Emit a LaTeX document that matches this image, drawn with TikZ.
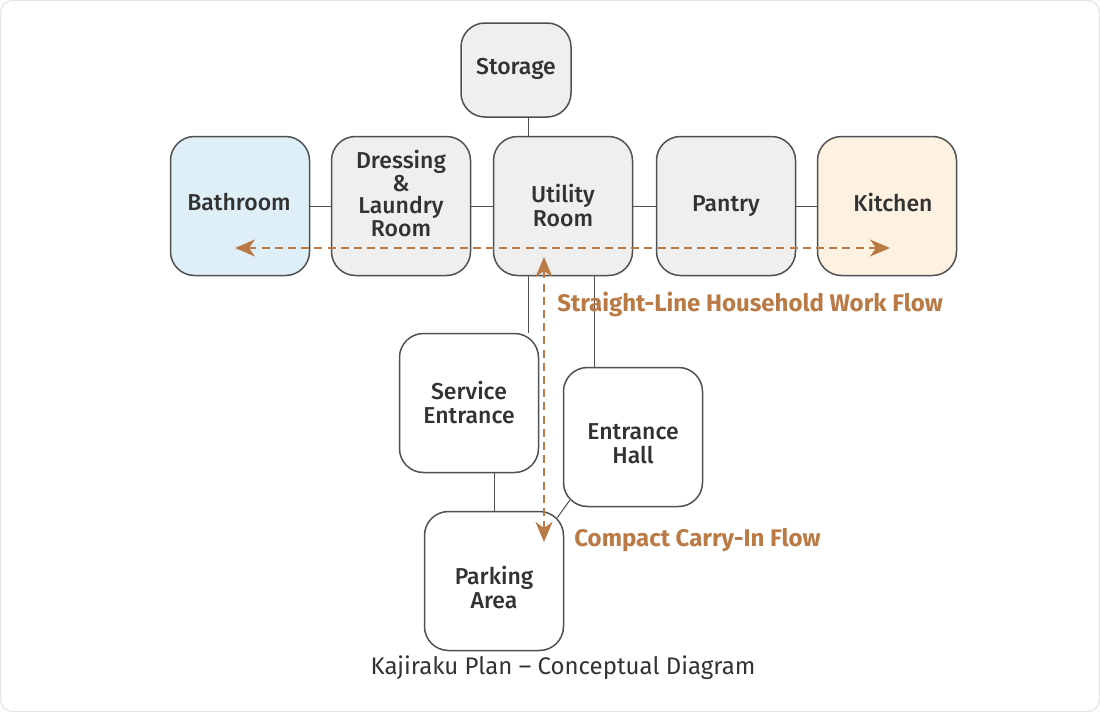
\documentclass[tikz,border=0pt]{standalone}
\usepackage{fontspec}
\setmainfont{Fira Sans}
\newfontfamily\medfont{Fira Sans Medium}
\usepackage{xcolor}
\usetikzlibrary{arrows.meta}
\definecolor{flowc}{RGB}{186,122,70}
\definecolor{edgec}{RGB}{80,80,80}
\definecolor{bathc}{RGB}{222,239,248}
\definecolor{kitc}{RGB}{253,241,226}
\definecolor{roomc}{RGB}{239,239,239}
\definecolor{textc}{RGB}{50,50,50}
\definecolor{framec}{RGB}{228,228,228}

\begin{document}
\begin{tikzpicture}[x=0.5pt,y=-0.5pt,
room/.style={draw=edgec,line width=0.75pt,rounded corners=12pt,minimum width=69.5pt,minimum height=69.5pt,
  inner sep=0pt,align=center,text=textc,font=\medfont\fontsize{11.5}{12}\selectfont},
roomtext/.style={text=textc,align=center,inner sep=0pt,font=\medfont\fontsize{11.5}{12}\selectfont},
link/.style={draw=edgec,line width=0.5pt},
flow/.style={flowc,line width=0.9pt,dash pattern=on 4pt off 2.6pt,{Stealth[length=10pt,width=8.5pt,inset=3pt]}-{Stealth[length=10pt,width=8.5pt,inset=3pt]}},
flowlabel/.style={text=flowc,font=\bfseries\fontsize{12}{14}\selectfont,anchor=west,inner sep=0pt}]
\useasboundingbox(0,0)rectangle(1100,712);
\draw[framec,line width=0.6pt,rounded corners=6pt](0.5,0.5)rectangle(1099.5,711.5);
\node[room,fill=bathc](bath)at(240,206){};
\node[roomtext](bathtext)at(239,202){Bathroom};
\node[room,fill=roomc](dress)at(401,206){};
\node[roomtext,font=\medfont\fontsize{11.5}{11.2}\selectfont](dresstext)at(401,193.5){Dressing\\\&\\Laundry\\Room};
\node[room,fill=roomc](util)at(563,206){Utility\\Room};
\node[room,fill=roomc](pantry)at(726,206){Pantry};
\node[room,fill=kitc](kitch)at(887,206){};
\node[roomtext](kitchtext)at(893,203){Kitchen};
\node[room,fill=roomc,minimum width=55pt,minimum height=47pt](store)at(516,70){};
\node[roomtext](storetext)at(516,69){Storage};
\node[room,fill=white](serv)at(469,403){Service\\Entrance};
\node[room,fill=white](hall)at(633,437){};
\node[roomtext](halltext)at(633,444){Entrance\\Hall};
\node[room,fill=white](park)at(494,581){};
\node[roomtext](parktext)at(494,588){Parking\\Area};
\coordinate(spine)at(528,0);
\coordinate(hallx)at(594,0);
\draw[link](bath)--(dress) (dress)--(util) (util)--(pantry) (pantry)--(kitch);
\draw[link](store.south -| spine)--(util.north -| spine);
\draw[link](util.south -| spine)--(serv.north -| spine);
\draw[link](util.south -| hallx)--(hall.north -| hallx);
\draw[link](serv.south -| park.north)--(park.north);
\draw[link]([shift={(7,-7)}]hall.south west)--([shift={(-7,7)}]park.north east);
\coordinate(wl)at(235,248);
\coordinate(wr)at(890,248);
\coordinate(ct)at(544,257);
\coordinate(cb)at(544,542);
\draw[flow](wl)--(wr);
\draw[flow](ct)--(cb);
\node[flowlabel](wlab)at(557,304){Straight-Line Household Work Flow};
\node[flowlabel](clab)at(574,540){Compact Carry-In Flow};
\node[text=textc,font=\fontsize{12}{14}\selectfont](title)at(563,668){Kajiraku Plan – Conceptual Diagram};
\end{tikzpicture}
\end{document}
